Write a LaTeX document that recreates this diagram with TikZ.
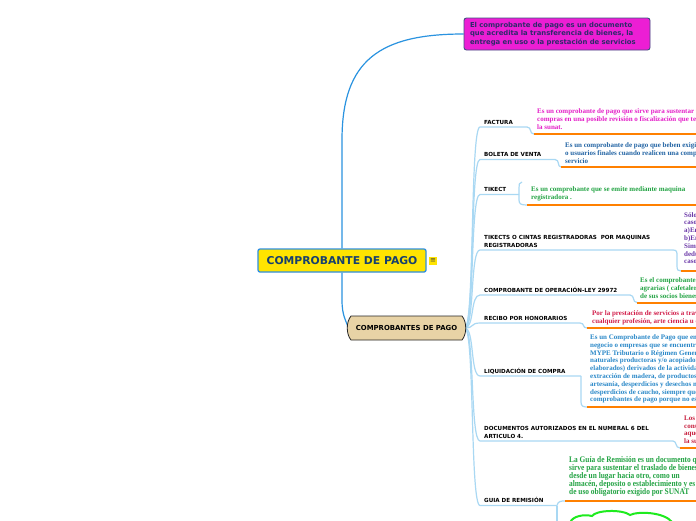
\documentclass[tikz,border=0pt]{standalone}
\usepackage{fontspec}
\setmainfont{Liberation Serif}
\newfontfamily\dvs{DejaVu Sans}
\newfontfamily\tms{Liberation Serif}
\newfontfamily\tmsn{Liberation Serif}[FakeStretch=0.86]
\usetikzlibrary{backgrounds}
\definecolor{magfill}{HTML}{EC1ED4}
\definecolor{magborder}{HTML}{405080}
\definecolor{magtext}{HTML}{2E2A6A}
\definecolor{yelfill}{HTML}{FFE400}
\definecolor{yelborder}{HTML}{2F8FE0}
\definecolor{yeltext}{HTML}{17406E}
\definecolor{beige}{HTML}{E8D3A6}
\definecolor{mainln}{HTML}{2A93E0}
\definecolor{brlight}{HTML}{A9D8F3}
\definecolor{orangeln}{HTML}{FF8000}
\definecolor{cfact}{HTML}{E41FC8}
\definecolor{cbol}{HTML}{2163A3}
\definecolor{cgreen}{HTML}{22A343}
\definecolor{cpurp}{HTML}{6B38A8}
\definecolor{cred}{HTML}{D21F4B}
\definecolor{cliq}{HTML}{2A88C8}
\definecolor{cdoc}{HTML}{C81F3E}
\definecolor{cloudgr}{HTML}{1EEB1E}
\begin{document}
\begin{tikzpicture}[x=1pt,y=-1pt,
  lab/.style={anchor=base west, inner sep=0pt, align=left, text=black,
    font=\dvs\bfseries\fontsize{5.6}{8}\selectfont},
  desc/.style={anchor=base west, inner sep=0pt, align=left,
    font=\tms\bfseries\fontsize{7}{8}\selectfont},
  branch/.style={draw=brlight, line width=1.2pt},
  oline/.style={draw=orangeln, line width=2pt},
  mainline/.style={draw=mainln, line width=1.2pt}]
\useasboundingbox (0,0) rectangle (696,520);
\clip (0,0) rectangle (696,520);

% ---------- top definition box ----------
\node[draw=magborder, fill=magfill, rounded corners=2.5pt, line width=0.9pt,
  minimum width=186pt, minimum height=32pt, text width=174pt, align=left,
  inner sep=0pt, text=magtext, font=\dvs\bfseries\fontsize{6.85}{8.3}\selectfont]
  (top) at (557,34) {El comprobante de pago es un documento\\que acredita la transferencia de bienes, la\\entrega en uso o la prestación de servicios};

% ---------- central node ----------
\node[draw=yelborder, fill=yelfill, rounded corners=2pt, line width=1.3pt,
  minimum width=168pt, minimum height=23pt, inner sep=0pt, text=yeltext,
  font=\dvs\bfseries\fontsize{10.8}{12}\selectfont]
  (main) at (342,260.5) {COMPROBANTE DE PAGO};
\node[fill=yelfill, minimum size=8.5pt, inner sep=0pt, text=black!75,
  font=\dvs\fontsize{7}{7}\selectfont] (icon) at (433,261) {≡};

% ---------- beige node ----------
\fill[beige] (351,316) -- (462,316) .. controls (467,322) and (467,334) .. (462,340)
  -- (351,340) .. controls (346,334) and (346,322) .. (351,316) -- cycle;
\draw[black!85, line width=0.8pt] (351,316) -- (462,316) .. controls (467,322) and (467,334) .. (462,340)
  -- (351,340) .. controls (346,334) and (346,322) .. (351,316) -- cycle;
\node[minimum width=116pt, minimum height=24pt, inner sep=0pt, text=black,
  font=\dvs\bfseries\fontsize{6.9}{8}\selectfont] (cp) at (406.5,328) {COMPROBANTES DE PAGO};

% ---------- labels (anchor = baseline of last line) ----------
\node[lab] (l1) at (484,124) {FACTURA};
\node[lab] (l2) at (484,156) {BOLETA DE VENTA};
\node[lab] (l3) at (484,191.5) {TIKECT};
\node[lab] (l4) at (484,247) {TIKECTS O CINTAS REGISTRADORAS\ \ POR MAQUINAS\\REGISTRADORAS};
\node[lab] (l5) at (484,292) {COMPROBANTE DE OPERACIÓN-LEY 29972};
\node[lab] (l6) at (484,320) {RECIBO POR HONORARIOS};
\node[lab] (l7) at (484,373) {LIQUIDACIÓN DE COMPRA};
\node[lab] (l8) at (484,438) {DOCUMENTOS AUTORIZADOS EN EL NUMERAL 6 DEL\\ARTICULO 4.};
\node[lab] (l9) at (484,502) {GUIA DE REMISIÓN};

% ---------- descriptions (anchor = baseline of last line) ----------
\node[desc, text=cfact] (d1) at (537,129.5) {Es un comprobante de pago que sirve para sustentar tus\\compras en una posible revisión o fiscalización que te haga\\la sunat.};
\node[desc, text=cbol] (d2) at (565,163.5) {Es un comprobante de pago que beben exigir los consumidores\\o usuarios finales cuando realicen una compra o utilicen un\\servicio};
\node[desc, text=cgreen] (d3) at (531,199.5) {Es un comprobante que se emite mediante maquina\\registradora .};
\node[desc, text=cpurp, font=\tms\bfseries\fontsize{7}{7.8}\selectfont] (d4) at (684,263.8) {Sólo pueden emitirse en los siguientes\\casos:\\a)Emisores del Nuevo RUS.\\b)Emisores del Régimen Especial\\Simplificado. No otorgan derecho a\\deducir gasto ni crédito fiscal salvo\\casos especiales.};
\node[desc, text=cgreen] (d5) at (640,298.5) {Es el comprobante de pago que emiten las organizaciones\\agrarias ( cafetaleras ) por la adquisición\\de sus socios bienes primarios};
\node[desc, text=cred] (d6) at (592,323) {Por la prestación de servicios a través del ejercicio de\\cualquier profesión, arte ciencia u oficio.};
\node[desc, text=cliq, font=\tms\bfseries\fontsize{7}{7.8}\selectfont] (d7) at (590,401.9) {Es un Comprobante de Pago que emiten las personas de\\negocio o empresas que se encuentran en el Régimen\\MYPE Tributario o Régimen General cuando compran a personas\\naturales productoras y/o acopiadoras de productos primarios (no\\elaborados) derivados de la actividad agropecuaria, pesca artesanal,\\extracción de madera, de productos silvestres, minería aurífera,\\artesanía, desperdicios y desechos metálicos y no metálicos,\\desperdicios de caucho, siempre que éstas no otorguen\\comprobantes de pago porque no están inscritas en el RUC.};
\node[desc, text=cdoc, font=\tms\bfseries\fontsize{7}{7.7}\selectfont] (d8) at (684,443.6) {Los documentos autorizados son\\considerados comprobantes de pago\\aquellos que sean autorizados por\\la superintendencia.};
\node[desc, text=cgreen, font=\tmsn\bfseries\fontsize{8.6}{8.1}\selectfont] (d9) at (569,494.4) {La Guía de Remisión es un documento que\\sirve para sustentar el traslado de bienes\\desde un lugar hacia otro, como un\\almacén, deposito o establecimiento y es\\de uso obligatorio exigido por SUNAT};

% ---------- coordinates ----------
\coordinate (R) at (720,0);
\coordinate (s1) at (480,127);   \coordinate (e1) at (527,127);   \coordinate (o1) at (534,134);
\coordinate (s2) at (480,159.5); \coordinate (e2) at (555,159.5); \coordinate (o2) at (561,167);
\coordinate (s3) at (480,194.5); \coordinate (e3) at (519,194.5); \coordinate (t3) at (522,182); \coordinate (o3) at (527,205);
\coordinate (s4) at (480,250);   \coordinate (e4) at (673,250);   \coordinate (o4) at (681,271);
\coordinate (s5) at (480,295);   \coordinate (e5) at (630,295);   \coordinate (o5) at (637,302.5);
\coordinate (s6) at (480,323);   \coordinate (e6) at (580,323);   \coordinate (o6) at (587,328);
\coordinate (s7) at (480,376);   \coordinate (e7) at (581,376);   \coordinate (o7) at (587,407);
\coordinate (s8) at (480,441);   \coordinate (e8) at (673,441);   \coordinate (o8) at (680,448);
\coordinate (s9) at (480,505.5); \coordinate (e9) at (557,505.5); \coordinate (o9) at (565,501);
\coordinate (c9) at (557,530);

\begin{scope}[on background layer]
\fill[white] (0,0) rectangle (696,520);
% main connectors
\draw[mainline] (top.west) .. controls (380,34) and (342,60) .. (342,140) -- (main.north);
\draw[mainline] (main.south) -- (342,300) .. controls (342,316) and (346,320) .. (cp.west);
% branches
\foreach \i in {1,...,9} {
  \draw[branch] (cp.east) .. controls +(10,0) and +(-10,0) .. (s\i) -- (e\i);
}
% connections label -> description
\draw[branch] (e1) .. controls (532,127) and (529,134) .. (o1);
\draw[branch] (e2) .. controls (560,159.5) and (557,167) .. (o2);
\draw[branch] (t3) .. controls (519,182) and (519,185) .. (519,188) -- (519,200) .. controls (519,204) and (521,205) .. (o3);
\draw[branch] (e4) .. controls (677,250) and (677,252) .. (677,256) -- (677,266) .. controls (677,270) and (678,271) .. (o4);
\draw[branch] (e5) .. controls (635,295) and (632,302.5) .. (o5);
\draw[branch] (e6) .. controls (585,323) and (582,328) .. (o6);
\draw[branch] (e7) -- (581,402) .. controls (581,406) and (583,407) .. (o7);
\draw[branch] (e8) .. controls (677,441) and (675,448) .. (o8);
\draw[branch] (e9) .. controls (558,501) and (561,501) .. (o9);
\draw[branch] (e9) -- (c9);
% orange underlines
\foreach \i in {1,...,9} {
  \draw[oline] (o\i) -- (o\i -| R);
}
\end{scope}

% ---------- green cloud (partly visible) ----------
\draw[cloudgr, line width=2pt] (570,523) .. controls (572,516) and (584,514) .. (592,516)
  .. controls (596,510) and (622,509) .. (630,515)
  .. controls (638,511) and (664,512) .. (672,522);
\end{tikzpicture}
\end{document}
